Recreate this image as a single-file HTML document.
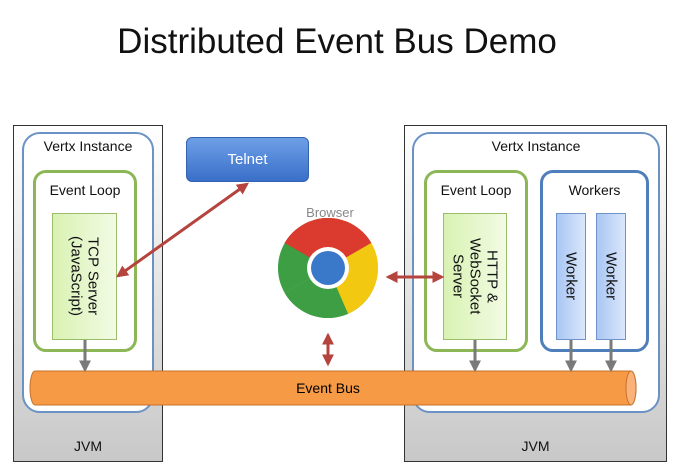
<!DOCTYPE html>
<html><head><style>
body{margin:0;width:674px;height:476px;background:#fff;position:relative;overflow:hidden;font-family:"Liberation Sans",sans-serif;color:#111}
.a{position:absolute;box-sizing:border-box}
.jvm{background:linear-gradient(#fff,#c8c8c8);border:1.5px solid #333}
.vx{background:#fff;border:2px solid #6a92c4;border-radius:18px}
.el{border:3.5px solid #8db657;border-radius:13px;background:#fff}
.wk{border:3.5px solid #4f7fba;border-radius:13px;background:#fff}
.g{background:linear-gradient(90deg,#d9f2b3,#f2fbe4);border:1px solid #9bbd6a}
.b{background:linear-gradient(90deg,#a9c6f3,#dbe7fb);border:1px solid #7094c8}
.lbl{font-size:14px;text-align:center}
.v{writing-mode:vertical-rl;font-size:15px;display:flex;align-items:center;justify-content:center;text-align:center;line-height:17px}
</style></head><body>
<div class="a" style="left:0;top:22px;width:674px;text-align:center;font-size:35px">Distributed Event Bus Demo</div>

<div class="a jvm" style="left:13px;top:125px;width:150px;height:337px"></div>
<div class="a jvm" style="left:404px;top:125px;width:263px;height:337px"></div>
<div class="a lbl" style="left:13px;top:438px;width:150px">JVM</div>
<div class="a lbl" style="left:404px;top:438px;width:263px">JVM</div>

<div class="a vx" style="left:22px;top:132px;width:132px;height:281px"></div>
<div class="a vx" style="left:412px;top:132px;width:248px;height:281px"></div>
<div class="a lbl" style="left:22px;top:138px;width:132px">Vertx Instance</div>
<div class="a lbl" style="left:412px;top:138px;width:248px">Vertx Instance</div>

<div class="a el" style="left:33px;top:170px;width:104px;height:182px"></div>
<div class="a lbl" style="left:33px;top:182px;width:104px">Event Loop</div>
<div class="a g v" style="left:52px;top:213px;width:65px;height:127px">TCP Server<br>(JavaScript)</div>

<div class="a el" style="left:424px;top:170px;width:104px;height:182px"></div>
<div class="a lbl" style="left:424px;top:182px;width:104px">Event Loop</div>
<div class="a g v" style="left:443px;top:213px;width:64px;height:127px">HTTP &amp;<br>WebSocket<br>Server</div>

<div class="a wk" style="left:540px;top:170px;width:109px;height:182px"></div>
<div class="a lbl" style="left:540px;top:182px;width:109px">Workers</div>
<div class="a b v" style="left:556px;top:213px;width:30px;height:127px">Worker</div>
<div class="a b v" style="left:596px;top:213px;width:30px;height:127px">Worker</div>

<div class="a" style="left:186px;top:137px;width:123px;height:45px;border-radius:6px;background:linear-gradient(#6d9fe6,#3a6fc9);border:1px solid #3463b0;color:#fff;font-size:15px;text-align:center;line-height:43px">Telnet</div>
<div class="a" style="left:280px;top:205px;width:100px;text-align:center;font-size:13px;color:#888">Browser</div>

<svg class="a" style="left:0;top:0" width="674" height="476">
<defs>
<marker id="r" viewBox="0 0 10 10" refX="8" refY="5" markerWidth="4" markerHeight="4" orient="auto-start-reverse"><path d="M0,0L10,5L0,10z" fill="#b5443e"/></marker>
<marker id="gm" viewBox="0 0 10 10" refX="8" refY="5" markerWidth="4" markerHeight="4" orient="auto"><path d="M0,0L10,5L0,10z" fill="#7a7a7a"/></marker>
</defs>
<!-- chrome -->
<g transform="translate(328,268)">
<path d="M0,0 L0,-50 A50,50 0 0 1 43.3,25 Z" fill="#f2c811"/>
<path d="M0,0 L43.3,25 A50,50 0 0 1 -43.3,25 Z" fill="#3d9e44"/>
<path d="M0,0 L-43.3,25 A50,50 0 0 1 0,-50 Z" fill="#3d9e44"/>
<path d="M-43.3,-25 A50,50 0 0 1 43.3,-25 L0,-15 Z" fill="#db3a2e"/>
<path d="M-43.3,-25 A50,50 0 0 1 0,-50 L0,0 Z" fill="#db3a2e"/>
<path d="M0,-50 A50,50 0 0 1 43.3,-25 L0,0 Z" fill="#db3a2e"/>
<path d="M43.3,-25 A50,50 0 0 1 20,45.8 L0,0 Z" fill="#f2c811"/>
<path d="M20,45.8 A50,50 0 0 1 -43.3,25 L0,0 Z" fill="#3d9e44"/>
<circle r="21" fill="#fff"/><circle r="17" fill="#3a78c9"/>
</g>
<line x1="247" y1="184" x2="118" y2="276" stroke="#b5443e" stroke-width="3" marker-start="url(#r)" marker-end="url(#r)"/>
<line x1="388" y1="277" x2="442" y2="277" stroke="#b5443e" stroke-width="3" marker-start="url(#r)" marker-end="url(#r)"/>
<line x1="328" y1="335" x2="328" y2="364" stroke="#b5443e" stroke-width="3" marker-start="url(#r)" marker-end="url(#r)"/>
<!-- bus -->
<path d="M35,371 L631,371 A5,17 0 0 1 631,405 L35,405 A5,17 0 0 1 35,371Z" fill="#f69a45" stroke="#c8702a"/>
<ellipse cx="631" cy="388" rx="5" ry="17" fill="#f8b27a" stroke="#c8702a"/>
<g stroke="#7a7a7a" stroke-width="3" marker-end="url(#gm)">
<line x1="85" y1="340" x2="85" y2="370"/>
<line x1="475" y1="340" x2="475" y2="370"/>
<line x1="571" y1="340" x2="571" y2="370"/>
<line x1="611" y1="340" x2="611" y2="370"/>
</g>
<text x="328" y="393" font-size="14" text-anchor="middle" font-family="Liberation Sans">Event Bus</text>
</svg>
</body></html>
